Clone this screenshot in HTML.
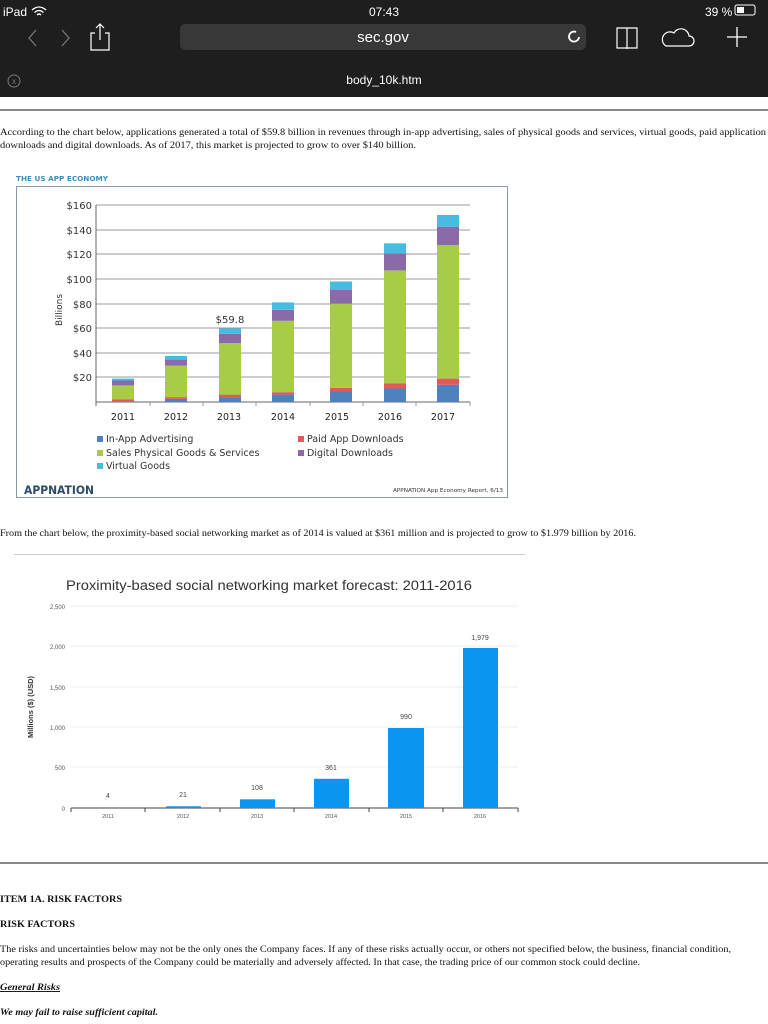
<!DOCTYPE html>
<html><head><meta charset="utf-8"><style>
html,body{margin:0;padding:0;background:#fff;width:768px;height:1024px;overflow:hidden}
svg{display:block}
.s{font-family:"Liberation Serif",serif;font-size:9.5px;fill:#111}
.a{font-family:"DejaVu Sans","Liberation Sans",sans-serif}
.h{font-family:"Liberation Sans",sans-serif;fill:#fff}
</style></head><body>
<svg width="768" height="1024" viewBox="0 0 768 1024" xmlns="http://www.w3.org/2000/svg">
<!-- header -->
<rect x="0" y="0" width="768" height="97" fill="#1e1e1e"/>
<text class="h" x="3" y="16" font-size="12">iPad</text>
<path d="M32 10 q7 -6 14 0 M34.5 12.5 q4.5 -4 9 0 M37 15 q2 -2 4 0" stroke="#fff" stroke-width="1.3" fill="none"/>
<text class="h" x="384" y="16" font-size="12" text-anchor="middle">07:43</text>
<text class="h" x="705" y="16" font-size="12">39 %</text>
<rect x="735" y="5" width="20" height="10" rx="2" fill="none" stroke="#fff" stroke-width="1"/>
<rect x="737" y="7" width="7" height="6" fill="#fff"/>
<path d="M36 30 l-7 8 l7 8 M62 30 l7 8 l-7 8" stroke="#777" stroke-width="1.3" fill="none"/>
<path d="M95 33 h-4 v17 h18 v-17 h-4 M100 24 v16 M96 28 l4 -4 l4 4" stroke="#fff" stroke-width="1.2" fill="none"/>
<rect x="180" y="24" width="406" height="26" rx="5" fill="#383838"/>
<text class="h" x="383" y="42" font-size="15" text-anchor="middle">sec.gov</text>
<path d="M576 32 a5 5 0 1 0 3 5" stroke="#fff" stroke-width="1.8" fill="none"/>
<path d="M617 28 h20 v20 h-20 z M627 28 v21" stroke="#fff" stroke-width="1.2" fill="none"/>
<path d="M666 46 h23 a5 5 0 0 0 0 -10 a8 8 0 0 0 -15 -3 a6 6 0 0 0 -8 13 z" stroke="#fff" stroke-width="1.2" fill="none"/>
<path d="M737 27 v20 M727 37 h20" stroke="#fff" stroke-width="1.3"/>
<circle cx="14" cy="81" r="6" fill="none" stroke="#777" stroke-width="1"/>
<text x="14" y="84" font-size="8" fill="#777" text-anchor="middle" font-family="Liberation Sans">x</text>
<text class="h" x="384" y="84" font-size="12" text-anchor="middle">body_10k.htm</text>
<rect x="0" y="109" width="768" height="2" fill="#888"/>
<!-- para 1 -->
<text class="s" x="0" y="135" textLength="766" lengthAdjust="spacingAndGlyphs">According to the chart below, applications generated a total of $59.8 billion in revenues through in-app advertising, sales of physical goods and services, virtual goods, paid application</text>
<text class="s" x="0" y="148" textLength="416" lengthAdjust="spacingAndGlyphs">downloads and digital downloads. As of 2017, this market is projected to grow to over $140 billion.</text>
<!-- chart 1 -->
<text class="a" x="16" y="181" font-size="7" fill="#3a8fc6" font-weight="bold" textLength="92" lengthAdjust="spacingAndGlyphs">THE US APP ECONOMY</text>
<rect x="16.5" y="186.5" width="491" height="311" fill="#fff" stroke="#8a9aa8" stroke-width="1"/>
<g stroke="#999" stroke-width="1">
<line x1="96" y1="205" x2="470" y2="205"/><line x1="96" y1="230" x2="470" y2="230"/>
<line x1="96" y1="254" x2="470" y2="254"/><line x1="96" y1="279" x2="470" y2="279"/>
<line x1="96" y1="304" x2="470" y2="304"/><line x1="96" y1="328" x2="470" y2="328"/>
<line x1="96" y1="353" x2="470" y2="353"/><line x1="96" y1="377" x2="470" y2="377"/>
<line x1="96" y1="402" x2="470" y2="402" stroke="#666"/>
<line x1="96" y1="205" x2="96" y2="406" stroke="#666"/>
<line x1="150" y1="402" x2="150" y2="406"/><line x1="203" y1="402" x2="203" y2="406"/><line x1="256" y1="402" x2="256" y2="406"/><line x1="310" y1="402" x2="310" y2="406"/><line x1="363" y1="402" x2="363" y2="406"/><line x1="416" y1="402" x2="416" y2="406"/><line x1="470" y1="402" x2="470" y2="406"/>
</g>
<g class="a" font-size="10" fill="#333" text-anchor="end">
<text x="92" y="209">$160</text><text x="92" y="234">$140</text><text x="92" y="258">$120</text><text x="92" y="283">$100</text><text x="92" y="308">$80</text><text x="92" y="332">$60</text><text x="92" y="357">$40</text><text x="92" y="381">$20</text>
</g>
<text class="a" font-size="9" fill="#333" transform="translate(62,310) rotate(-90)" text-anchor="middle">Billions</text>
<g id="bars1"></g>
<g>
<!-- generated stacks: y=402-v*1.23 -->
<!-- 2011 x=112 -->
<rect x="112" y="401.4" width="22" height="0.6" fill="#4f81bd"/><rect x="112" y="399.5" width="22" height="1.9" fill="#e05a5a"/><rect x="112" y="385.4" width="22" height="14.1" fill="#a6cc48"/><rect x="112" y="380.5" width="22" height="4.9" fill="#8a6aa8"/><rect x="112" y="378.6" width="22" height="1.9" fill="#46bde0"/>
<!-- 2012 -->
<rect x="165" y="398.9" width="22" height="3.1" fill="#4f81bd"/><rect x="165" y="397.1" width="22" height="1.8" fill="#e05a5a"/><rect x="165" y="365.7" width="22" height="31.4" fill="#a6cc48"/><rect x="165" y="359.6" width="22" height="6.1" fill="#8a6aa8"/><rect x="165" y="355.9" width="22" height="3.7" fill="#46bde0"/>
<!-- 2013 -->
<rect x="219" y="397.1" width="22" height="4.9" fill="#4f81bd"/><rect x="219" y="394.6" width="22" height="2.5" fill="#e05a5a"/><rect x="219" y="343" width="22" height="51.6" fill="#a6cc48"/><rect x="219" y="333.7" width="22" height="9.3" fill="#8a6aa8"/><rect x="219" y="328.4" width="22" height="5.3" fill="#46bde0"/>
<!-- 2014 -->
<rect x="272" y="394.6" width="22" height="7.4" fill="#4f81bd"/><rect x="272" y="392.2" width="22" height="2.4" fill="#e05a5a"/><rect x="272" y="320.8" width="22" height="71.4" fill="#a6cc48"/><rect x="272" y="309.8" width="22" height="11" fill="#8a6aa8"/><rect x="272" y="302.4" width="22" height="7.4" fill="#46bde0"/>
<!-- 2015 -->
<rect x="330" y="391.5" width="22" height="10.5" fill="#4f81bd"/><rect x="330" y="387.9" width="22" height="3.6" fill="#e05a5a"/><rect x="330" y="303.6" width="22" height="84.3" fill="#a6cc48"/><rect x="330" y="290" width="22" height="13.6" fill="#8a6aa8"/><rect x="330" y="281.5" width="22" height="8.5" fill="#46bde0"/>
<!-- 2016 -->
<rect x="384" y="388.5" width="22" height="13.5" fill="#4f81bd"/><rect x="384" y="383.5" width="22" height="5" fill="#e05a5a"/><rect x="384" y="270.4" width="22" height="113.1" fill="#a6cc48"/><rect x="384" y="253.2" width="22" height="17.2" fill="#8a6aa8"/><rect x="384" y="243.3" width="22" height="9.9" fill="#46bde0"/>
<!-- 2017 -->
<rect x="437" y="384.8" width="22" height="17.2" fill="#4f81bd"/><rect x="437" y="378.6" width="22" height="6.2" fill="#e05a5a"/><rect x="437" y="245.2" width="22" height="133.4" fill="#a6cc48"/><rect x="437" y="226.7" width="22" height="18.5" fill="#8a6aa8"/><rect x="437" y="215" width="22" height="11.7" fill="#46bde0"/>
</g>
<text class="a" x="230" y="323" font-size="10" fill="#333" text-anchor="middle">$59.8</text>
<g class="a" font-size="9.5" fill="#222" text-anchor="middle">
<text x="123" y="420">2011</text><text x="176" y="420">2012</text><text x="229" y="420">2013</text><text x="283" y="420">2014</text><text x="337" y="420">2015</text><text x="390" y="420">2016</text><text x="443" y="420">2017</text>
</g>
<g class="a" font-size="9.5" fill="#333">
<rect x="97" y="436" width="6" height="6" fill="#4f81bd"/><text x="106" y="442">In-App Advertising</text>
<rect x="97" y="450" width="6" height="6" fill="#a6cc48"/><text x="106" y="456">Sales Physical Goods &amp; Services</text>
<rect x="97" y="463" width="6" height="6" fill="#46bde0"/><text x="106" y="469">Virtual Goods</text>
<rect x="298" y="436" width="6" height="6" fill="#e05a5a"/><text x="307" y="442">Paid App Downloads</text>
<rect x="298" y="450" width="6" height="6" fill="#8a6aa8"/><text x="307" y="456">Digital Downloads</text>
</g>
<text class="a" x="24" y="494" font-size="11.5" font-weight="bold" fill="#2b4a6a" textLength="70" lengthAdjust="spacingAndGlyphs">APPNATION</text>
<text class="a" x="503" y="492" font-size="5" fill="#333" text-anchor="end" textLength="110" lengthAdjust="spacingAndGlyphs">APPNATION App Economy Report, 6/13</text>
<!-- para 2 -->
<text class="s" x="0" y="536" textLength="636" lengthAdjust="spacingAndGlyphs">From the chart below, the proximity-based social networking market as of 2014 is valued at $361 million and is projected to grow to $1.979 billion by 2016.</text>
<rect x="14" y="554" width="511" height="1" fill="#ccc"/>
<!-- chart 2 -->
<text x="269" y="590" font-family="Liberation Sans,sans-serif" font-size="13.5" fill="#333" text-anchor="middle" textLength="406" lengthAdjust="spacingAndGlyphs">Proximity-based social networking market forecast: 2011-2016</text>
<g stroke="#eee" stroke-width="1">
<line x1="71" y1="606" x2="518" y2="606"/><line x1="71" y1="646" x2="518" y2="646"/><line x1="71" y1="687" x2="518" y2="687"/><line x1="71" y1="727" x2="518" y2="727"/><line x1="71" y1="767" x2="518" y2="767"/>
</g>
<line x1="71" y1="808" x2="518" y2="808" stroke="#444" stroke-width="1"/>
<g stroke="#444"><line x1="71" y1="808" x2="71" y2="812"/><line x1="145" y1="808" x2="145" y2="812"/><line x1="220" y1="808" x2="220" y2="812"/><line x1="294" y1="808" x2="294" y2="812"/><line x1="369" y1="808" x2="369" y2="812"/><line x1="443" y1="808" x2="443" y2="812"/><line x1="518" y1="808" x2="518" y2="812"/></g>
<g font-family="Liberation Sans,sans-serif" font-size="6" fill="#555" text-anchor="end">
<text x="65" y="609">2,500</text><text x="65" y="649">2,000</text><text x="65" y="690">1,500</text><text x="65" y="730">1,000</text><text x="65" y="770">500</text><text x="65" y="811">0</text>
</g>
<text font-family="Liberation Sans,sans-serif" font-weight="bold" font-size="7.5" fill="#333" transform="translate(33,707) rotate(-90)" text-anchor="middle">Millions ($) (USD)</text>
<g fill="#0a96f0">
<rect x="166" y="806.3" width="35" height="1.7"/><rect x="240" y="799.3" width="35" height="8.7"/><rect x="314" y="778.8" width="35" height="29.2"/><rect x="388" y="728" width="36" height="80"/><rect x="463" y="648" width="35" height="160"/>
</g>
<g font-family="Liberation Sans,sans-serif" font-size="7" fill="#444" text-anchor="middle">
<text x="108" y="798">4</text><text x="183" y="797">21</text><text x="257" y="790">108</text><text x="331" y="770">361</text><text x="406" y="719">990</text><text x="480" y="640">1,979</text>
</g>
<g font-family="Liberation Sans,sans-serif" font-size="5.5" fill="#555" text-anchor="middle">
<text x="108" y="818">2011</text><text x="183" y="818">2012</text><text x="257" y="818">2013</text><text x="331" y="818">2014</text><text x="406" y="818">2015</text><text x="480" y="818">2016</text>
</g>
<rect x="0" y="862" width="768" height="2" fill="#888"/>
<text class="s" x="0" y="902" font-weight="bold" textLength="122" lengthAdjust="spacingAndGlyphs">ITEM 1A. RISK FACTORS</text>
<text class="s" x="0" y="927" font-weight="bold" textLength="75" lengthAdjust="spacingAndGlyphs">RISK FACTORS</text>
<text class="s" x="0" y="952" textLength="731" lengthAdjust="spacingAndGlyphs">The risks and uncertainties below may not be the only ones the Company faces. If any of these risks actually occur, or others not specified below, the business, financial condition,</text>
<text class="s" x="0" y="965" textLength="640" lengthAdjust="spacingAndGlyphs">operating results and prospects of the Company could be materially and adversely affected. In that case, the trading price of our common stock could decline.</text>
<text class="s" x="0" y="990" font-weight="bold" font-style="italic" text-decoration="underline" textLength="60" lengthAdjust="spacingAndGlyphs">General Risks</text>
<text class="s" x="0" y="1015" font-weight="bold" font-style="italic" textLength="158" lengthAdjust="spacingAndGlyphs">We may fail to raise sufficient capital.</text>
</svg>
</body></html>
